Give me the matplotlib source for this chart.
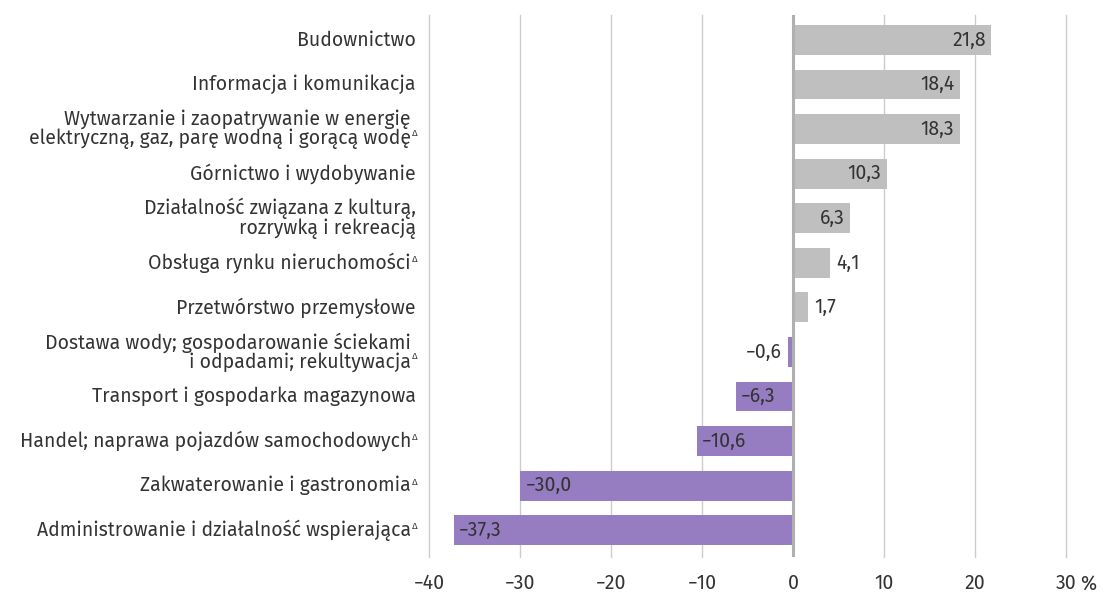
import matplotlib.pyplot as plt
import matplotlib.transforms as mtransforms

categories = [
    'Budownictwo',
    'Informacja i komunikacja',
    'Wytwarzanie i zaopatrywanie w energię\nelektryczną, gaz, parę wodną i gorącą wodę',
    'Górnictwo i wydobywanie',
    'Działalność związana z kulturą,\nrozrywką i rekreacją',
    'Obsługa rynku nieruchomości',
    'Przetwórstwo przemysłowe',
    'Dostawa wody; gospodarowanie ściekami\ni odpadami; rekultywacja',
    'Transport i gospodarka magazynowa',
    'Handel; naprawa pojazdów samochodowych',
    'Zakwaterowanie i gastronomia',
    'Administrowanie i działalność wspierająca',
]
values = [21.8, 18.4, 18.3, 10.3, 6.3, 4.1, 1.7, -0.6, -6.3, -10.6, -30.0, -37.3]
flagged = [False, False, True, False, False, True, False, True, False, True, True, True]
xticks = [-40, -30, -20, -10, 0, 10, 20, 30]

plt.rcParams['font.family'] = ['Fira Sans', 'Roboto', 'DejaVu Sans']
text_color = '#333333'
gray = '#bfbfbf'
purple = '#967cc0'
fs = 14

fig = plt.figure(figsize=(11.06, 5.92), dpi=100)
ax = fig.add_axes([429 / 1106, 1 - 557 / 592, (1066 - 429) / 1106, (557 - 15) / 592])

ypos = list(range(len(values)))
colors = [gray if v >= 0 else purple for v in values]
ax.barh(ypos, values, height=0.67, color=colors, zorder=2)

ax.set_xlim(-40, 30)
ax.set_ylim(len(values) - 1 + 0.6, -0.56)

for s in ax.spines.values():
    s.set_visible(False)
ax.set_xticks(xticks)
ax.set_xticklabels([str(t).replace('-', '\u2212') for t in xticks],
                   fontsize=fs, color=text_color)
ax.tick_params(axis='x', length=0, pad=12)
ax.set_yticks([])
for t in xticks:
    if t != 0:
        ax.axvline(t, color='#cccccc', linewidth=1, zorder=0, clip_on=False)
ax.axvline(0, color='#b0b0b0', linewidth=2.2, zorder=3)

pct_tr = mtransforms.blended_transform_factory(ax.transData, ax.transAxes) + \
    mtransforms.ScaledTranslation(14 / 100, -12 / 72, fig.dpi_scale_trans)
ax.text(30, 0, '%', transform=pct_tr, fontsize=fs, color=text_color,
        va='top', ha='left')

# category labels
for y, cat, fl in zip(ypos, categories, flagged):
    off = -18 / 100 if fl else -13 / 100
    tr = mtransforms.blended_transform_factory(ax.transAxes, ax.transData) + \
        mtransforms.ScaledTranslation(off, 0, fig.dpi_scale_trans)
    ax.text(0, y, cat, transform=tr, ha='right', va='center', fontsize=fs,
            color=text_color, linespacing=0.95, multialignment='right')
    if fl:
        tr2 = mtransforms.blended_transform_factory(ax.transAxes, ax.transData) + \
            mtransforms.ScaledTranslation(-17 / 100, 0, fig.dpi_scale_trans)
        ax.text(0, y + (0.02 if '\n' not in cat else 0.2), '\u0394', transform=tr2,
                ha='left', va='bottom', fontsize=7, color=text_color)

# value labels
for y, v in zip(ypos, values):
    lab = f'{abs(v):.1f}'.replace('.', ',')
    if v < 0:
        lab = '\u2212' + lab
    if v >= 5:
        dx, ha = -4, 'right'
    elif v >= 0:
        dx, ha = 4, 'left'
    elif v > -5:
        dx, ha = -4, 'right'
    else:
        dx, ha = 4, 'left'
    ax.annotate(lab, (v, y), xytext=(dx, 0), textcoords='offset points',
                ha=ha, va='center', fontsize=fs, color=text_color, zorder=4)

fig.savefig('out.png', dpi=100)
